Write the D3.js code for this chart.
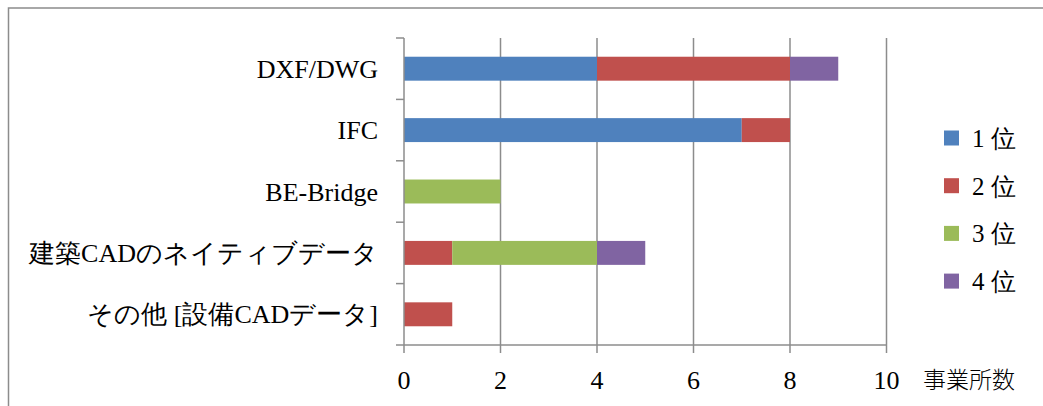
<!DOCTYPE html>
<html>
<head>
<meta charset="utf-8">
<script src="https://cdn.jsdelivr.net/npm/d3@7"></script>
<style>
  body { margin: 0; background: #fff; }
</style>
</head>
<body>
<div id="chart"></div>
<script>
let categories = ['DXF/DWG', 'IFC', 'BE-Bridge', '建築CADのネイティブデータ', 'その他 [設備CADデータ]']
let seriesNames = ['1 位', '2 位', '3 位', '4 位']
let rank1 = [4, 7, 0, 0, 0]
let rank2 = [4, 1, 0, 1, 1]
let rank3 = [0, 0, 2, 3, 0]
let rank4 = [1, 0, 0, 1, 0]
let xTicks = [0, 2, 4, 6, 8, 10]
let colors = ['#4F81BD', '#C0504D', '#9BBB59', '#8064A2']
let unitLabel = '事業所数'

let serif = "'Liberation Serif', 'DejaVu Serif', serif"
let W = 1043
let H = 406
let plotL = 404
let plotR = 886.5
let plotT = 38
let plotB = 345

let svg = d3
	.select('#chart')
	.append('svg')
	.attr('width', W)
	.attr('height', H)

// outer chart frame (right/bottom edges fall outside the picture)
svg.append('rect')
	.attr('x', 8.5)
	.attr('y', 8)
	.attr('width', W + 20)
	.attr('height', H + 20)
	.attr('fill', 'none')
	.attr('stroke', '#8c8c8c')
	.attr('stroke-width', 1.5)

let x = d3.scaleLinear().domain([0, 10]).range([plotL, plotR])
let y = d3.scaleBand().domain(categories).range([plotT, plotB]).paddingInner(0.61).paddingOuter(0.305)
let yEdges = d3.scaleLinear().domain([0, categories.length]).range([plotT, plotB])

let table = categories.map((c, i) => ({ cat: c, s0: rank1[i], s1: rank2[i], s2: rank3[i], s3: rank4[i] }))
let stack = d3.stack().keys(['s0', 's1', 's2', 's3'])(table)

// vertical gridlines
svg.append('g')
	.selectAll('line')
	.data(xTicks.slice(1))
	.join('line')
	.attr('x1', d => x(d))
	.attr('x2', d => x(d))
	.attr('y1', plotT)
	.attr('y2', plotB)
	.attr('stroke', '#8c8c8c')
	.attr('stroke-width', 1.5)

// bars
stack.forEach((layer, k) => {
	svg.append('g')
		.selectAll('rect')
		.data(layer.filter(d => d[1] > d[0]))
		.join('rect')
		.attr('x', d => x(d[0]))
		.attr('y', d => y(d.data.cat))
		.attr('width', d => x(d[1]) - x(d[0]))
		.attr('height', y.bandwidth())
		.attr('fill', colors[k])
})

// y axis line and ticks
svg.append('line')
	.attr('x1', plotL).attr('x2', plotL)
	.attr('y1', plotT).attr('y2', plotB)
	.attr('stroke', '#8c8c8c').attr('stroke-width', 1.5)
svg.append('g')
	.selectAll('line')
	.data(d3.range(categories.length + 1))
	.join('line')
	.attr('x1', plotL - 8).attr('x2', plotL)
	.attr('y1', d => yEdges(d)).attr('y2', d => yEdges(d))
	.attr('stroke', '#8c8c8c').attr('stroke-width', 1.5)

// x axis line and ticks
svg.append('line')
	.attr('x1', plotL).attr('x2', plotR)
	.attr('y1', plotB).attr('y2', plotB)
	.attr('stroke', '#8c8c8c').attr('stroke-width', 1.5)
svg.append('g')
	.selectAll('line')
	.data(xTicks)
	.join('line')
	.attr('x1', d => x(d)).attr('x2', d => x(d))
	.attr('y1', plotB).attr('y2', plotB + 8)
	.attr('stroke', '#8c8c8c').attr('stroke-width', 1.5)

// x tick labels
svg.append('g')
	.selectAll('text')
	.data(xTicks)
	.join('text')
	.attr('x', d => x(d))
	.attr('y', 389)
	.attr('text-anchor', 'middle')
	.attr('font-family', serif)
	.attr('font-size', 26)
	.text(d => d)

svg.append('text')
	.attr('x', 923)
	.attr('y', 388)
	.attr('font-size', 23)
	.attr('font-family', "'Noto Sans CJK JP'")
	.attr('font-weight', 300)
	.text(unitLabel)

// category labels
svg.append('g')
	.selectAll('text')
	.data(categories)
	.join('text')
	.attr('x', 378)
	.attr('y', d => y(d) + y.bandwidth() / 2 + 9)
	.attr('text-anchor', 'end')
	.attr('font-family', serif)
	.attr('font-size', 26)
	.attr('font-weight', 300)
	.text(d => d)

// legend
let legend = svg.append('g')
	.selectAll('g')
	.data(seriesNames)
	.join('g')
	.attr('transform', (d, i) => `translate(944, ${138 + i * 47.7})`)
legend.append('rect')
	.attr('x', 0).attr('y', -7.5)
	.attr('width', 15).attr('height', 15)
	.attr('fill', (d, i) => colors[i])
legend.append('text')
	.attr('x', 28)
	.attr('y', 9)
	.attr('font-family', serif)
	.attr('font-size', 25)
	.text(d => d)
</script>
</body>
</html>
